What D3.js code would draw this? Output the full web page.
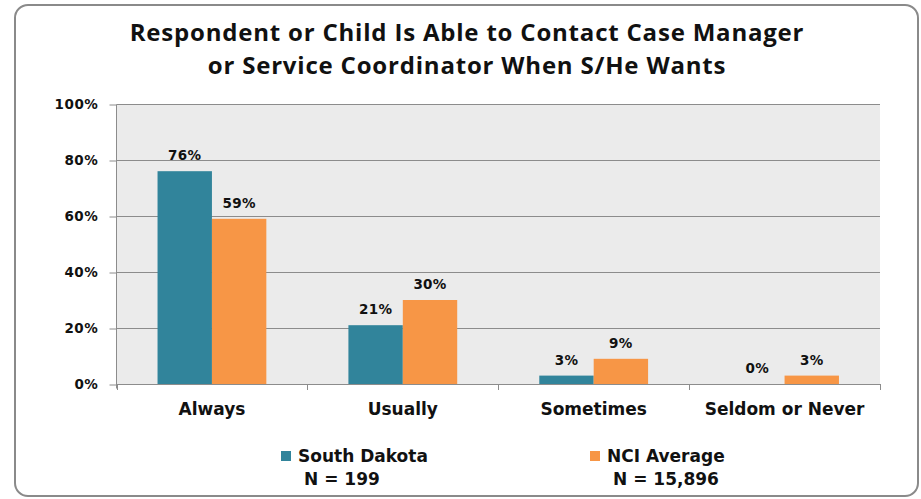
<!DOCTYPE html>
<html>
<head>
<meta charset="utf-8">
<script src="https://cdn.jsdelivr.net/npm/d3@7"></script>
<style>
  html, body { margin: 0; padding: 0; background: #fff; }
  svg { display: block; }
</style>
</head>
<body>
<svg id="chart" width="921" height="499"></svg>
<script>
// Chart data
const categories = ["Always", "Usually", "Sometimes", "Seldom or Never"];
const seriesNames = ["South Dakota", "NCI Average"];
const seriesN = ["N = 199", "N = 15,896"];
const southDakota = [76, 21, 3, 0];
const nciAverage = [59, 30, 9, 3];
const yTicks = [0, 20, 40, 60, 80, 100];
const titleLines = [
  "Respondent or Child Is Able to Contact Case Manager",
  "or Service Coordinator When S/He Wants"
];

const colors = ["#31849B", "#F79646"];
const values = [southDakota, nciAverage];

const svg = d3.select("#chart");

// Outer rounded frame
svg.append("rect")
  .attr("x", 15).attr("y", 5)
  .attr("width", 903).attr("height", 491)
  .attr("rx", 13).attr("ry", 13)
  .attr("fill", "#fff")
  .attr("stroke", "#8a8a8a")
  .attr("stroke-width", 2);

// Title
const titleFont = "'Open Sans', Lato, sans-serif";
svg.append("g").selectAll("text")
  .data(titleLines)
  .join("text")
  .attr("x", 467)
  .attr("y", (d, i) => 41 + i * 32.5)
  .attr("text-anchor", "middle")
  .attr("font-family", titleFont)
  .attr("font-weight", "bold")
  .attr("font-size", 24)
  .attr("letter-spacing", 0.8)
  .attr("fill", "#111")
  .text(d => d);

// Plot area
const plot = { left: 116.5, right: 880, top: 104, bottom: 384 };

const x0 = d3.scaleBand()
  .domain(categories)
  .range([plot.left, plot.right])
  .paddingInner(0.43)
  .paddingOuter(0.215);

const x1 = d3.scaleBand()
  .domain(seriesNames)
  .range([0, x0.bandwidth()]);

const y = d3.scaleLinear()
  .domain([0, 100])
  .range([plot.bottom, plot.top]);

// Background
svg.append("rect")
  .attr("x", plot.left).attr("y", plot.top)
  .attr("width", plot.right - plot.left)
  .attr("height", plot.bottom - plot.top)
  .attr("fill", "#ebebeb");

// Gridlines
svg.append("g").selectAll("line")
  .data(yTicks.filter(t => t > 0))
  .join("line")
  .attr("x1", plot.left).attr("x2", plot.right)
  .attr("y1", d => y(d) + 0.5).attr("y2", d => y(d) + 0.5)
  .attr("stroke", "#8c8c8c")
  .attr("stroke-width", 1);

// Y axis
const axisFont = "'DejaVu Sans', Verdana, sans-serif";
const yAxis = d3.axisLeft(y)
  .tickValues(yTicks)
  .tickSize(7)
  .tickPadding(11)
  .tickFormat(d => d + "%");

const gy = svg.append("g")
  .attr("transform", `translate(${plot.left},0.5)`)
  .call(yAxis);
gy.select(".domain").attr("stroke", "#8c8c8c").attr("d", `M0,${plot.top}V${plot.bottom + 4}`);
gy.selectAll(".tick line").attr("stroke", "#8c8c8c");
gy.selectAll(".tick text")
  .attr("font-family", axisFont)
  .attr("font-weight", "bold")
  .attr("font-size", 13.5)
  .attr("letter-spacing", 0.6)
  .attr("fill", "#111");

// Bars
const groups = svg.append("g").selectAll("g")
  .data(categories)
  .join("g")
  .attr("transform", d => `translate(${x0(d)},0)`);

groups.selectAll("rect")
  .data((d, i) => seriesNames.map((s, j) => ({ s, v: values[j][i], j })))
  .join("rect")
  .attr("x", d => x1(d.s))
  .attr("width", x1.bandwidth())
  .attr("y", d => y(d.v))
  .attr("height", d => y(0) - y(d.v))
  .attr("fill", d => colors[d.j]);

// Value labels
groups.selectAll("text")
  .data((d, i) => seriesNames.map((s, j) => ({ s, v: values[j][i], j })))
  .join("text")
  .attr("x", d => x1(d.s) + x1.bandwidth() / 2)
  .attr("y", d => y(d.v) - 11)
  .attr("text-anchor", "middle")
  .attr("font-family", axisFont)
  .attr("font-weight", "bold")
  .attr("font-size", 13.5)
  .attr("letter-spacing", 0.3)
  .attr("fill", "#111")
  .text(d => d.v + "%");

// X axis line with ticks at category boundaries
svg.append("line")
  .attr("x1", plot.left).attr("x2", plot.right)
  .attr("y1", plot.bottom + 0.5).attr("y2", plot.bottom + 0.5)
  .attr("stroke", "#8c8c8c");

const step = x0.step();
const boundaries = d3.range(categories.length + 1).map(i => plot.left + i * step);
svg.append("g").selectAll("line")
  .data(boundaries)
  .join("line")
  .attr("x1", d => Math.round(d) + 0.5).attr("x2", d => Math.round(d) + 0.5)
  .attr("y1", plot.bottom).attr("y2", plot.bottom + 6)
  .attr("stroke", "#8c8c8c");

// Category labels
svg.append("g").selectAll("text")
  .data(categories)
  .join("text")
  .attr("x", d => x0(d) + x0.bandwidth() / 2)
  .attr("y", 415)
  .attr("text-anchor", "middle")
  .attr("font-family", axisFont)
  .attr("font-weight", "bold")
  .attr("font-size", 17)
  .attr("fill", "#111")
  .text(d => d);

// Legend
const legendX = [281, 590];
const legend = svg.append("g").selectAll("g")
  .data(seriesNames)
  .join("g")
  .attr("transform", (d, i) => `translate(${legendX[i]},0)`);

legend.append("rect")
  .attr("x", 0).attr("y", 451)
  .attr("width", 10).attr("height", 10)
  .attr("fill", (d, i) => colors[i]);

legend.append("text")
  .attr("x", 17).attr("y", 461.5)
  .attr("font-family", axisFont)
  .attr("font-weight", "bold")
  .attr("font-size", 17)
  .attr("fill", "#111")
  .text(d => d);

legend.append("text")
  .attr("x", 23).attr("y", 484.5)
  .attr("font-family", axisFont)
  .attr("font-weight", "bold")
  .attr("font-size", 17)
  .attr("fill", "#111")
  .text((d, i) => seriesN[i]);
</script>
</body>
</html>
